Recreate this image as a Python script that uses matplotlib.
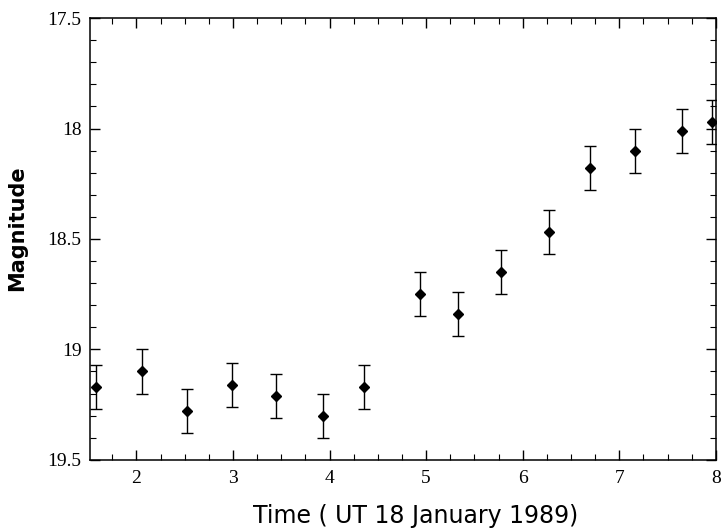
import matplotlib
matplotlib.use("Agg")
import matplotlib.pyplot as plt
from matplotlib.ticker import MultipleLocator

# light curve readings (time in hours UT, magnitude, error)
time = [1.58, 2.06, 2.52, 2.99, 3.45, 3.93, 4.36, 4.94, 5.33, 5.78, 6.27, 6.70, 7.16, 7.65, 7.96]
mag = [19.17, 19.10, 19.28, 19.16, 19.21, 19.30, 19.17, 18.75, 18.84, 18.65, 18.47, 18.18, 18.10, 18.01, 17.97]
err = [0.10, 0.10, 0.10, 0.10, 0.10, 0.10, 0.10, 0.10, 0.10, 0.10, 0.10, 0.10, 0.10, 0.10, 0.10]
yticks = [17.5, 18, 18.5, 19, 19.5]
ylabels = ["17.5", "18", "18.5", "19", "19.5"]

fig = plt.figure(figsize=(7.26, 5.31), dpi=100)
ax = fig.add_axes([0.124, 0.134, 0.862, 0.832])

ax.errorbar(time, mag, yerr=err, fmt="D", color="black", markersize=5.5,
            ecolor="black", elinewidth=1.0, capsize=4, capthick=1.0)

ax.set_xlim(1.52, 8)
ax.set_ylim(19.5, 17.5)

ax.xaxis.set_major_locator(MultipleLocator(1))
ax.xaxis.set_minor_locator(MultipleLocator(0.25))
ax.yaxis.set_minor_locator(MultipleLocator(0.1))
ax.set_yticks(yticks)
ax.set_yticklabels(ylabels)

ax.tick_params(which="both", direction="in", top=True, right=True)
ax.tick_params(which="major", length=7, width=1)
ax.tick_params(which="minor", length=4, width=0.8)
for lab in ax.get_xticklabels() + ax.get_yticklabels():
    lab.set_fontfamily("Liberation Serif")
    lab.set_fontsize(14)
ax.tick_params(axis="x", pad=7)
ax.tick_params(axis="y", pad=6)

for s in ax.spines.values():
    s.set_linewidth(1.1)

ax.set_xlabel("Time ( UT 18 January 1989)", fontsize=17, family="DejaVu Sans")
ax.set_ylabel("Magnitude", fontsize=15, family="DejaVu Sans", fontweight="bold")
ax.xaxis.set_label_coords(0.52, -0.1)
ax.yaxis.set_label_coords(-0.1, 0.525)

fig.savefig("out.png", dpi=100)
